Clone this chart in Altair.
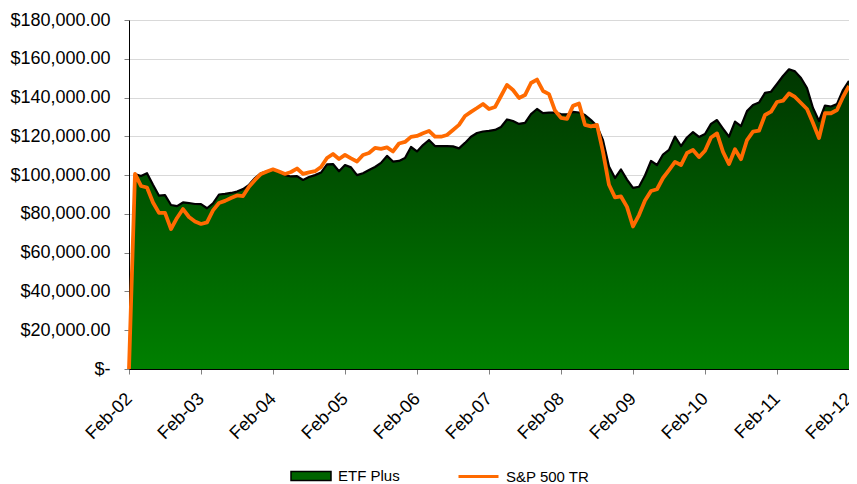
import altair as alt
import pandas as pd

TICK_LABELS = ["Feb-02", "Feb-03", "Feb-04", "Feb-05", "Feb-06", "Feb-07",
               "Feb-08", "Feb-09", "Feb-10", "Feb-11", "Feb-12"]
SERIES = ["ETF Plus", "S&P 500 TR"]

# monthly values, thousands of dollars, Feb-02 .. Feb-12
ETF_PLUS = [
    0, 100.6, 99.5, 101, 95, 89.4, 89.7, 84.6, 84, 85.9, 85.6, 85.1,
    85, 82.9, 85.4, 90, 90.3, 90.8, 91.5, 92.8, 95, 98.5, 101, 102,
    103, 101.6, 100, 99.3, 99.5, 97.5, 99, 100, 101.3, 105.5, 105.7, 102,
    105.2, 104, 100, 101, 102.6, 104.2, 106.3, 109.9, 107, 107.3, 108.8, 114.5,
    112.2, 115.5, 118.1, 115, 115, 115, 114.8, 113.8, 116.6, 119.8, 121.7, 122.5,
    122.8, 123.3, 124.8, 128.7, 127.9, 126.4, 126.9, 131.5, 134.1, 132, 132.2, 132.3,
    131.5, 131.3, 132.6, 132.3, 131, 128.4, 125.3, 118, 104.5, 98.5, 102.9, 97.7,
    93.4, 94, 99.8, 107.3, 105.2, 110.6, 113, 119.9, 115, 119.4, 122.2, 119.7,
    121.2, 126.4, 128.4, 124, 119.8, 127.6, 125.3, 133, 136.2, 137.4, 142.4, 143,
    147, 151.1, 154.6, 153.5, 150.1, 144.9, 134.6, 127.9, 135.9, 135.4, 136.7, 143.9,
    148.6,
]
SP500_TR = [
    0, 100.6, 94.4, 93.6, 85.9, 80.5, 80.5, 72.2, 77.9, 82.5, 78.4, 76.1,
    74.8, 75.6, 81.8, 85.6, 86.7, 88.2, 89.5, 89.2, 94, 97.5, 100.6, 101.9,
    103, 101.9, 100.6, 101.6, 103.4, 100.6, 101.4, 102, 104.2, 108.8, 110.9, 108.3,
    110.4, 108.6, 107, 110.4, 111.4, 114, 113.5, 114.3, 112.2, 116.3, 117.1, 119.7,
    120.2, 121.6, 122.8, 119.8, 119.8, 120.7, 123.3, 125.9, 130.5, 132.6, 134.6, 136.7,
    134.1, 135.1, 140.8, 146.5, 143.9, 139.8, 141.3, 147.5, 149.3, 143.4, 141.8, 133.3,
    129.5, 129, 135.7, 136.9, 125.9, 125.1, 125.9, 112, 95, 88.5, 89, 83.6,
    73.5, 79.4, 86.9, 91.8, 92.7, 98.5, 102.6, 106.8, 105.2, 111.4, 113, 109.3,
    112.6, 119.4, 121.5, 112, 105.7, 113.3, 108.2, 118.1, 122.4, 122.9, 131, 132.7,
    137.7, 138.4, 142.1, 140.3, 137.2, 134.1, 126.9, 119.1, 131.9, 131.9, 133.6, 140.3,
    146,
]

n = len(ETF_PLUS)
df = pd.DataFrame({
    "m": list(range(n)),
    "etf": [v * 1000 for v in ETF_PLUS],
    "sp": [v * 1000 for v in SP500_TR],
    "s_etf": SERIES[0],
    "s_sp": SERIES[1],
})

FONT = "Liberation Sans"
label_expr = "[" + ",".join(f"'{t}'" for t in TICK_LABELS) + "][round(datum.value/12)]"

x_enc = alt.X(
    "m:Q",
    scale=alt.Scale(domain=[0, n - 1], nice=False, zero=False),
    axis=alt.Axis(
        values=list(range(0, n, 12)), labelExpr=label_expr, title=None, grid=False,
        labelAngle=-45, labelAlign="right", labelBaseline="middle",
        labelFontSize=18, labelFont=FONT, labelColor="black",
        tickSize=5, tickColor="#808080", domainColor="black", domainWidth=1,
        labelPadding=22, labelFlush=False, labelOverlap=False,
    ),
)
y_axis = alt.Axis(
    values=list(range(0, 180001, 20000)),
    labelExpr="datum.value == 0 ? '$-\u00a0\u00a0' : format(datum.value, '$,.2f')",
    title=None, grid=True, gridColor="#D9D9D9", gridWidth=1,
    domainColor="black", domainWidth=1, tickColor="#808080", tickSize=5,
    labelFontSize=18, labelFont=FONT, labelColor="black", labelPadding=14,
)
y_scale = alt.Scale(domain=[0, 180000], nice=False)

area = alt.Chart(df).mark_area(
    fill=alt.Gradient(
        gradient="linear",
        stops=[alt.GradientStop(color="#003600", offset=0),
               alt.GradientStop(color="#008000", offset=1)],
        x1=0, x2=0, y1=0, y2=1,
    ),
).encode(x=x_enc, y=alt.Y("etf:Q", scale=y_scale, axis=y_axis))

outline = alt.Chart(df).mark_line(strokeWidth=2.2, strokeJoin="round").encode(
    x=x_enc,
    y=alt.Y("etf:Q", scale=y_scale, axis=y_axis),
    color=alt.Color(
        "s_etf:N",
        scale=alt.Scale(domain=[SERIES[0]], range=["black"]),
        legend=alt.Legend(
            title=None, orient="none", legendX=161, legendY=435,
            symbolType="M-1,-0.225H1V0.225H-1Z", symbolSize=1600,
            symbolFillColor="#006400", symbolStrokeWidth=1.5,
            labelFontSize=15, labelFont=FONT, labelColor="black",
            labelOffset=6, padding=0,
        ),
    ),
)

sp = alt.Chart(df).mark_line(strokeWidth=3.8, strokeJoin="round").encode(
    x=x_enc,
    y=alt.Y("sp:Q", scale=y_scale, axis=y_axis),
    color=alt.Color(
        "s_sp:N",
        scale=alt.Scale(domain=[SERIES[1]], range=["#FF6A00"]),
        legend=alt.Legend(
            title=None, orient="none", legendX=328, legendY=435,
            symbolType="stroke", symbolSize=1600, symbolStrokeWidth=3,
            symbolStrokeColor="#FF6A00",
            labelFontSize=15, labelFont=FONT, labelColor="black",
            labelOffset=6, padding=0,
        ),
    ),
)

chart = alt.layer(area, outline, sp).resolve_scale(color="independent").properties(
    width=720, height=349,
    autosize=alt.AutoSizeParams(type="none"),
    padding={"left": 121, "top": 12, "right": 0, "bottom": 115},
).configure_view(stroke=None)

chart.save("out.html", embed_options={"renderer": "svg", "actions": False})
